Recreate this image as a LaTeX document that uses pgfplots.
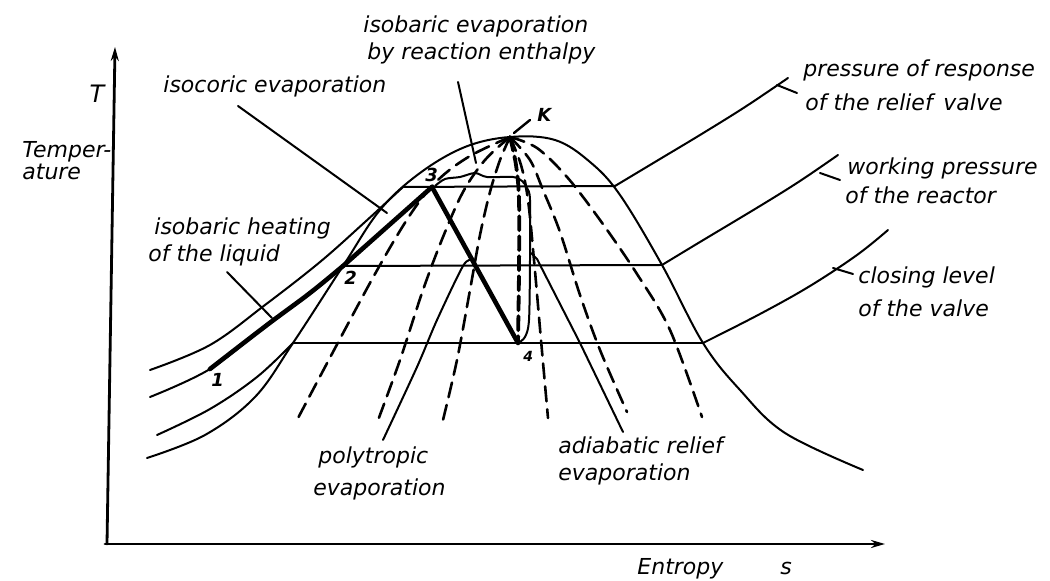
\documentclass[border=0pt]{standalone}
\usepackage{fontspec}
\setmainfont{DejaVu Sans}
\usepackage{pgfplots}
\pgfplotsset{compat=1.18}
\usetikzlibrary{arrows.meta}
\tikzset{
  lbl/.style={anchor=base west, inner sep=0pt, font=\fontsize{11}{13}\selectfont\itshape},
  num/.style={anchor=base west, inner sep=0pt, font=\fontsize{9}{11}\selectfont\itshape\bfseries},
  dsh/.style={smooth, tension=0.55, line width=1.3pt, dash pattern=on 7.5pt off 4pt},
}
\begin{document}
\begin{tikzpicture}
\begin{axis}[
  x=0.5pt, y=0.5pt, y dir=reverse,
  xmin=0, xmax=1050, ymin=0, ymax=581,
  hide axis, clip=false, no markers,
  cycle list={{black,solid}},
  every axis plot/.append style={black, solid, line width=1pt, line join=round, line cap=round},
]
\path (axis cs:0,0) rectangle (axis cs:1050,581);
% axes
\addplot[line width=1.4pt, -{Stealth[length=7pt,width=4pt]}] coordinates {(107,544) (115,47)};
\addplot[line width=1.4pt, -{Stealth[length=7pt,width=4pt]}] coordinates {(105,544) (885,544)};
% saturation dome
\addplot[smooth, tension=0.6] coordinates {(147,458) (205,435) (255,397) (293,343) (343,266) (380,210) (420,173) (465,147) (510,137) (555,140) (590,162) (620,195) (662,265) (703,343) (740,390) (785,433) (863,470)};
% top isobar
\addplot[smooth, tension=0.6] coordinates {(150,370) (210,345) (265,305) (320,262) (365,222) (403,187)};
\addplot coordinates {(403,187) (615,186)};
\addplot[smooth, tension=0.6] coordinates {(615,186) (660,159) (700,135) (745,107) (788,78)};
% middle isobar
\addplot[smooth, tension=0.6] coordinates {(150,397) (210,369) (267,325) (310,293) (343,266)};
\addplot coordinates {(343,266) (662,265)};
\addplot[smooth, tension=0.6] coordinates {(662,265) (700,242) (760,206) (800,181) (838,155)};
% bottom isobar
\addplot[smooth, tension=0.6] coordinates {(157,435) (210,409) (257,377) (293,343)};
\addplot coordinates {(293,343) (703,343)};
\addplot[smooth, tension=0.6] coordinates {(703,343) (760,314) (810,286) (857,255) (888,230)};
% thick process path 1-2-3-4
\addplot[smooth, tension=0.6, line width=2.3pt] coordinates {(210,369) (267,325) (310,293) (343,266)};
\addplot[line width=2.3pt] coordinates {(343,266) (432,187)};
\addplot[line width=2.3pt] coordinates {(432,187) (518,343)};
% dashed quality lines from K
\addplot[dsh] coordinates {(510,137) (470,156) (438,180) (410,215) (370,283) (297,420)};
\addplot[dsh] coordinates {(510,137) (485,160) (463,192) (443,237) (423,290) (400,360) (377,423)};
\addplot[dsh] coordinates {(510,137) (500,160) (490,192) (480,235) (470,290) (457,360) (443,420)};
\addplot[dsh, line width=1.9pt, dash pattern=on 7pt off 3pt] coordinates {(510,137) (516,165) (519,200) (519,270) (518,343)};
\addplot[dsh] coordinates {(510,137) (521,165) (528,200) (534,260) (541,340) (548,418)};
\addplot[dsh] coordinates {(510,137) (530,160) (543,190) (560,232) (580,295) (600,350) (627,412)};
\addplot[dsh] coordinates {(510,137) (537,148) (567,177) (600,220) (637,274) (670,330) (702,417)};
% K tick
\addplot[line width=1.2pt] coordinates {(514,133) (530,120)};
% isobaric evaporation loop
\addplot[smooth, tension=0.5] coordinates {(435,186) (445,179) (460,177) (475,173) (487,177) (513,177) (522,181) (527,188) (530,200) (530,260) (529,320) (525,337) (518,343)};
% polytropic line
\addplot[smooth, tension=0.5] coordinates {(383,440) (417,367) (437,320) (463,266) (472,260)};
% adiabatic relief line
\addplot coordinates {(531,253) (537,259) (580,343) (623,432)};
% pointers
\addplot coordinates {(238,106) (387,213)};
\addplot coordinates {(227,272) (272,318)};
\addplot coordinates {(458,82) (476,163)};
\addplot coordinates {(777,85) (797,93)};
\addplot coordinates {(820,173) (840,180)};
\addplot coordinates {(833,268) (853,274)};
% labels
\node[anchor=base, inner sep=0pt, font=\fontsize{12}{14}\selectfont\itshape] at (axis cs:97,103) {T};
\node[lbl] at (axis cs:22,158) {Temper-};
\node[lbl] at (axis cs:22,180) {ature};
\node[lbl] at (axis cs:163,93) {isocoric evaporation};
\node[lbl] at (axis cs:154,235) {isobaric heating};
\node[lbl] at (axis cs:148,262) {of the liquid};
\node[lbl] at (axis cs:363,33) {isobaric evaporation};
\node[lbl] at (axis cs:367,60) {by reaction enthalpy};
\node[lbl] at (axis cs:803,77) {pressure of response};
\node[lbl] at (axis cs:805,111) {of the relief\, valve};
\node[lbl] at (axis cs:847,175) {working pressure};
\node[lbl] at (axis cs:845,204) {of the reactor};
\node[lbl] at (axis cs:858,284) {closing level};
\node[lbl] at (axis cs:858,317) {of the valve};
\node[lbl] at (axis cs:318,464) {polytropic};
\node[lbl] at (axis cs:313,496) {evaporation};
\node[lbl] at (axis cs:558,454) {adiabatic relief};
\node[lbl] at (axis cs:558,481) {evaporation};
\node[lbl] at (axis cs:637,575) {Entropy};
\node[lbl] at (axis cs:780,575) {s};
\node[num] at (axis cs:537,122) {K};
\node[num] at (axis cs:425,182) {3};
\node[num] at (axis cs:344,285) {2};
\node[num] at (axis cs:211,387) {1};
\node[num, font=\fontsize{7}{8}\selectfont\itshape\bfseries] at (axis cs:523,362) {4};
\end{axis}
\end{tikzpicture}
\end{document}
